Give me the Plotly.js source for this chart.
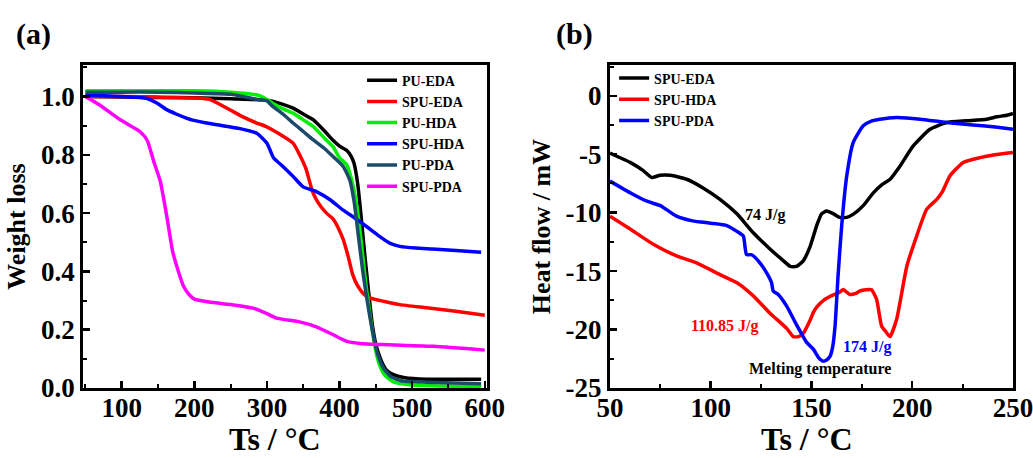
<!DOCTYPE html>
<html>
<head>
<meta charset="utf-8">
<script src="https://cdn.plot.ly/plotly-3.0.1.min.js"></script>
<style>html,body{margin:0;padding:0;background:#fff;}#chart{width:1033px;height:458px;}</style>
</head>
<body>
<div id="chart"></div>
<script>
// ---------- (a) TGA data ----------
const puEdaT = [50, 100, 150, 200, 250, 300, 320, 336, 350, 364, 380, 391, 400, 410, 416, 420, 425, 430, 435, 440, 445, 450, 458, 465, 475, 490, 520, 560, 595];
const puEdaW = [1.0, 0.998, 0.997, 0.996, 0.992, 0.987, 0.975, 0.96, 0.94, 0.92, 0.88, 0.85, 0.83, 0.815, 0.795, 0.77, 0.70, 0.58, 0.45, 0.33, 0.22, 0.15, 0.09, 0.06, 0.045, 0.035, 0.03, 0.03, 0.03];

const spuEdaT = [50, 100, 150, 200, 221, 245, 267, 285, 299, 315, 336, 345, 354, 362, 368, 375, 382, 391, 398, 405, 412, 418, 425, 432, 440, 451, 465, 483, 520, 560, 600];
const spuEdaW = [1.0, 1.0, 0.998, 0.995, 0.99, 0.96, 0.93, 0.91, 0.897, 0.875, 0.84, 0.80, 0.75, 0.68, 0.646, 0.62, 0.60, 0.58, 0.55, 0.51, 0.45, 0.39, 0.35, 0.326, 0.31, 0.303, 0.295, 0.286, 0.275, 0.263, 0.25];

const puHdaT = [50, 100, 150, 200, 250, 287, 300, 308, 320, 336, 350, 364, 380, 391, 400, 410, 418, 424, 430, 436, 442, 448, 455, 462, 475, 500, 540, 595];
const puHdaW = [1.02, 1.02, 1.02, 1.02, 1.015, 1.005, 0.99, 0.977, 0.96, 0.943, 0.92, 0.897, 0.855, 0.828, 0.79, 0.765, 0.70, 0.62, 0.50, 0.36, 0.25, 0.15, 0.08, 0.045, 0.02, 0.01, 0.007, 0.005];

const spuHdaT = [50, 100, 134, 150, 162, 175, 189, 199, 215, 231, 263, 286, 300, 309, 322, 336, 350, 368, 387, 405, 420, 437, 455, 469, 483, 505, 528, 560, 595];
const spuHdaW = [1.005, 1.0, 0.994, 0.975, 0.955, 0.94, 0.926, 0.918, 0.91, 0.903, 0.89, 0.874, 0.84, 0.79, 0.76, 0.726, 0.69, 0.674, 0.646, 0.61, 0.585, 0.554, 0.52, 0.497, 0.486, 0.48, 0.477, 0.472, 0.466];

const puPdaT = [50, 100, 150, 200, 250, 287, 300, 308, 322, 336, 350, 364, 380, 391, 405, 414, 420, 426, 432, 438, 445, 452, 460, 470, 485, 520, 595];
const puPdaW = [1.015, 1.015, 1.015, 1.012, 1.008, 0.99, 0.985, 0.966, 0.94, 0.909, 0.88, 0.851, 0.82, 0.794, 0.76, 0.714, 0.64, 0.52, 0.40, 0.30, 0.20, 0.12, 0.07, 0.04, 0.025, 0.02, 0.015];

const spuPdaT = [50, 70, 98, 125, 135, 145, 153, 162, 170, 178, 185, 193, 200, 220, 254, 281, 300, 313, 345, 368, 391, 410, 428, 460, 530, 600];
const spuPdaW = [1.0, 0.97, 0.92, 0.88, 0.85, 0.77, 0.71, 0.59, 0.47, 0.40, 0.35, 0.32, 0.305, 0.295, 0.285, 0.274, 0.255, 0.24, 0.227, 0.21, 0.183, 0.16, 0.153, 0.149, 0.143, 0.13];

// ---------- (b) DSC data ----------
const dscEdaT = [50, 55, 60, 66.5, 70.7, 74.8, 80, 88, 96, 104.6, 113, 121, 129.4, 136, 139.5, 142.6, 146, 149.3, 152.6, 155, 157.5, 161, 164, 167.5, 171, 175.7, 180.7, 185, 189, 194, 200.5, 208.8, 217, 227, 237, 242, 247, 250];
const dscEdaH = [-4.9, -5.3, -5.7, -6.4, -7.0, -6.8, -6.8, -7.14, -7.86, -8.86, -10.1, -11.7, -13.1, -14.1, -14.6, -14.6, -14.1, -12.9, -11.1, -10.1, -9.86, -10.1, -10.4, -10.4, -10.1, -9.4, -8.3, -7.6, -7.14, -6.0, -4.29, -2.86, -2.29, -2.14, -2.0, -1.8, -1.66, -1.5];

const dscHdaT = [50, 60, 71.5, 83, 93, 104.6, 113, 121, 129.4, 137.7, 141, 143.5, 146, 149.3, 151, 153, 156, 160, 164, 165.8, 169, 172, 174, 177, 179.8, 182.3, 184.8, 187, 189, 192.3, 197.3, 202.2, 207.2, 212.2, 215, 218.7, 225.3, 233.6, 241, 250];
const dscHdaH = [-10.3, -11.4, -12.7, -13.7, -14.3, -15.3, -16.0, -17.1, -18.6, -19.9, -20.6, -20.6, -20.3, -19.2, -18.5, -18.0, -17.5, -17.1, -16.8, -16.57, -17.0, -16.9, -16.7, -16.6, -16.6, -17.4, -19.7, -20.2, -20.6, -19.1, -14.6, -12.0, -9.7, -8.86, -8.2, -6.86, -5.7, -5.29, -5.05, -4.86];

const dscPdaT = [50, 60, 68, 75, 83, 91, 100, 108, 113, 116.2, 117, 117.8, 120.3, 124.4, 128.6, 130.2, 131, 133.5, 137.7, 142.6, 147.6, 151, 153.5, 155.8, 157.5, 159.2, 160.5, 161.7, 163.2, 165, 167.5, 170.7, 175.7, 180, 184, 192.3, 204, 217, 230, 240, 250];
const dscPdaH = [-7.3, -8.3, -9.0, -9.4, -10.3, -10.7, -10.9, -11.1, -11.6, -12.0, -12.9, -13.6, -13.6, -14.3, -15.4, -16.0, -16.7, -17.0, -18.0, -19.6, -21.1, -21.7, -22.4, -22.7, -22.6, -22.3, -21.5, -19.7, -15.4, -11.1, -6.86, -4.0, -2.57, -2.15, -2.0, -1.86, -2.0, -2.29, -2.5, -2.65, -2.86];

// ---------- tick labels ----------
const tgaXTicks = [100, 200, 300, 400, 500, 600];
const tgaYTicks = [0, 0.2, 0.4, 0.6, 0.8, 1.0];
const tgaYLabels = ['0.0', '0.2', '0.4', '0.6', '0.8', '1.0'];
const dscXTicks = [50, 100, 150, 200, 250];
const dscYTicks = [-25, -20, -15, -10, -5, 0];
const dscYLabels = ['-25', '-20', '-15', '-10', '-5', '0'];

const FONT = 'Liberation Serif, Times New Roman, serif';
const lw = 3.5;
function tr(x, y, name, color, xa, ya, legend) {
  return {x: x, y: y, name: name, type: 'scatter', mode: 'lines',
    line: {color: color, width: lw, shape: 'spline', smoothing: 0.5},
    xaxis: xa, yaxis: ya, legend: legend};
}
const data = [
  tr(puEdaT, puEdaW, 'PU-EDA', '#000000', 'x', 'y', 'legend'),
  tr(spuEdaT, spuEdaW, 'SPU-EDA', '#ff0000', 'x', 'y', 'legend'),
  tr(puHdaT, puHdaW, 'PU-HDA', '#00ee00', 'x', 'y', 'legend'),
  tr(spuHdaT, spuHdaW, 'SPU-HDA', '#0000ff', 'x', 'y', 'legend'),
  tr(puPdaT, puPdaW, 'PU-PDA', '#1b4a6b', 'x', 'y', 'legend'),
  tr(spuPdaT, spuPdaW, 'SPU-PDA', '#ff00ff', 'x', 'y', 'legend'),
  tr(dscEdaT, dscEdaH, 'SPU-EDA', '#000000', 'x2', 'y2', 'legend2'),
  tr(dscHdaT, dscHdaH, 'SPU-HDA', '#ff0000', 'x2', 'y2', 'legend2'),
  tr(dscPdaT, dscPdaH, 'SPU-PDA', '#0000ff', 'x2', 'y2', 'legend2')
];

const tickFont = {family: FONT, size: 27, color: '#000', weight: 'bold'};
const titleFont = {family: FONT, size: 32, color: '#000', weight: 'bold'};
const yTitleFont = {family: FONT, size: 26, color: '#000', weight: 'bold'};
function ax(extra) {
  return Object.assign({
    showline: true, linewidth: 3, linecolor: '#000', mirror: true,
    ticks: 'inside', ticklen: 7, tickwidth: 2.5, tickcolor: '#000',
    showgrid: false, zeroline: false, tickfont: tickFont, fixedrange: true,
    ticklabeloverflow: 'allow'
  }, extra);
}
const legendFont = {family: FONT, size: 14, color: '#000', weight: 'bold'};

const layout = {
  width: 1033, height: 458,
  margin: {l: 0, r: 0, t: 0, b: 0},
  paper_bgcolor: '#fff', plot_bgcolor: '#fff',
  showlegend: true,
  xaxis: ax({domain: [0.0806, 0.4714], range: [47, 603], tickvals: tgaXTicks, anchor: 'y', ticklabelstandoff: -6,
    minor: {dtick: 50, tick0: 0, ticks: 'inside', ticklen: 4, tickwidth: 2, tickcolor: '#000'}}),
  yaxis: ax({domain: [0.1528, 0.858], range: [0, 1.108], tickvals: tgaYTicks, ticktext: tgaYLabels, anchor: 'x',
    minor: {dtick: 0.1, tick0: 0, ticks: 'inside', ticklen: 4, tickwidth: 2, tickcolor: '#000'},
    title: {text: 'Weight loss', font: yTitleFont, standoff: 8}}),
  xaxis2: ax({domain: [0.5905, 0.9806], range: [50, 250], tickvals: dscXTicks, anchor: 'y2', ticklabelstandoff: -6,
    minor: {dtick: 25, tick0: 0, ticks: 'inside', ticklen: 4, tickwidth: 2, tickcolor: '#000'}}),
  yaxis2: ax({domain: [0.1528, 0.858], range: [-25, 2.63], tickvals: dscYTicks, ticktext: dscYLabels, anchor: 'x2',
    minor: {dtick: 2.5, tick0: 0, ticks: 'inside', ticklen: 4, tickwidth: 2, tickcolor: '#000'},
    title: {text: 'Heat flow / mW', font: yTitleFont, standoff: 8}}),
  legend: {x: 0.3505, y: 0.859, xanchor: 'left', yanchor: 'top', bgcolor: 'rgba(0,0,0,0)',
    font: legendFont, tracegroupgap: 0, itemwidth: 30},
  legend2: {x: 0.5945, y: 0.8635, xanchor: 'left', yanchor: 'top', bgcolor: 'rgba(0,0,0,0)',
    font: legendFont, tracegroupgap: 0, itemwidth: 30},
  annotations: [
    {text: 'Ts / °C', xref: 'paper', yref: 'paper', x: 275 / 1033, y: 1 - 439 / 458, xanchor: 'center', yanchor: 'middle', showarrow: false,
      font: titleFont},
    {text: 'Ts / °C', xref: 'paper', yref: 'paper', x: 807 / 1033, y: 1 - 439 / 458, xanchor: 'center', yanchor: 'middle', showarrow: false,
      font: titleFont},
    {text: '(a)', xref: 'paper', yref: 'paper', x: 0.0329, y: 0.9258, xanchor: 'center', yanchor: 'middle', showarrow: false,
      font: {family: FONT, size: 30, color: '#000', weight: 'bold'}},
    {text: '(b)', xref: 'paper', yref: 'paper', x: 0.5566, y: 0.9258, xanchor: 'center', yanchor: 'middle', showarrow: false,
      font: {family: FONT, size: 30, color: '#000', weight: 'bold'}},
    {text: '74 J/g', xref: 'x2', yref: 'y2', x: 127, y: -10.2, showarrow: false,
      font: {family: FONT, size: 16, color: '#000', weight: 'bold'}},
    {text: '110.85 J/g', xref: 'x2', yref: 'y2', x: 107, y: -19.7, showarrow: false,
      font: {family: FONT, size: 16, color: '#ff0000', weight: 'bold'}},
    {text: '174 J/g', xref: 'x2', yref: 'y2', x: 177.4, y: -21.5, showarrow: false,
      font: {family: FONT, size: 16, color: '#0000ff', weight: 'bold'}},
    {text: 'Melting temperature', xref: 'x2', yref: 'y2', x: 154, y: -23.4, showarrow: false,
      font: {family: FONT, size: 16, color: '#000', weight: 'bold'}}
  ]
};
Plotly.newPlot('chart', data, layout, {displayModeBar: false, staticPlot: true});
</script>
</body>
</html>
